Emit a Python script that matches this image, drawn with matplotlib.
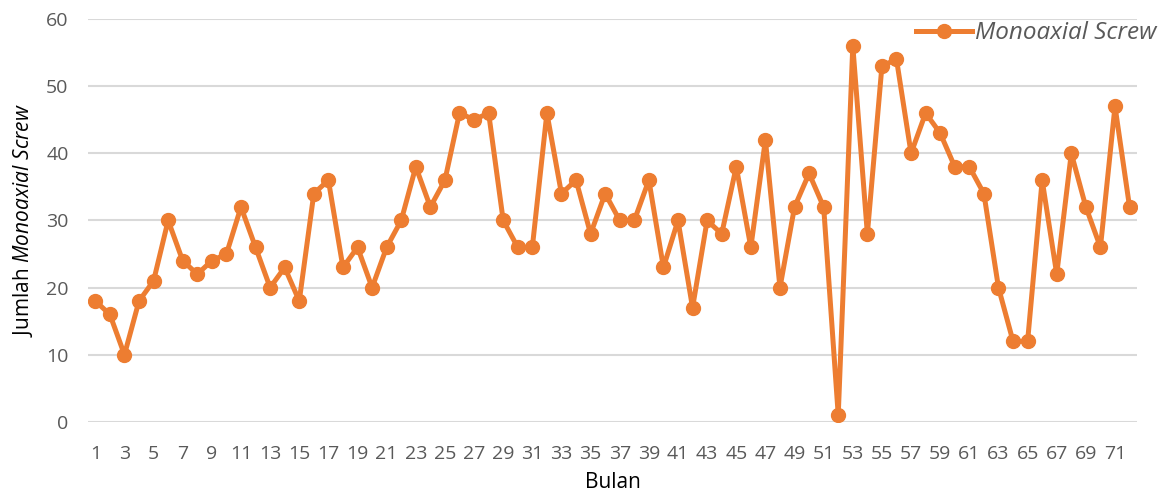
import numpy as np
import matplotlib
matplotlib.use("Agg")
import matplotlib.pyplot as plt

# monthly counts
bulan = list(range(1, 73))
jumlah = [18, 16, 10, 18, 21, 30, 24, 22, 24, 25,
          32, 26, 20, 23, 18, 34, 36, 23, 26, 20,
          26, 30, 38, 32, 36, 46, 45, 46, 30, 26,
          26, 46, 34, 36, 28, 34, 30, 30, 36, 23,
          30, 17, 30, 28, 38, 26, 42, 20, 32, 37,
          32, 1, 56, 28, 53, 54, 40, 46, 43, 38,
          38, 34, 20, 12, 12, 36, 22, 40, 32, 26,
          47, 32]
xtick_labels = [str(i) for i in range(1, 72, 2)]
yticks = [0, 10, 20, 30, 40, 50, 60]

orange = "#ED7D31"
grey_txt = "#595959"

plt.rcParams["font.family"] = ["Open Sans", "DejaVu Sans"]
plt.rcParams["mathtext.fontset"] = "custom"
plt.rcParams["mathtext.rm"] = "Open Sans"
plt.rcParams["mathtext.it"] = "Open Sans:italic"

fig = plt.figure(figsize=(11.66, 5.01), dpi=100)
ax = fig.add_axes([0.0755, 0.158, 0.8995, 0.804])

ax.plot(bulan, jumlah, color=orange, lw=3.6, marker="o", ms=10,
        label="Monoaxial Screw", solid_joinstyle="round")

ax.set_xlim(0.5, 72.5)
ax.set_ylim(0, 60)
ax.set_yticks(yticks)
ax.set_xticks(range(1, 72, 2))
ax.set_xticklabels(xtick_labels)
ax.grid(axis="y", color="#D9D9D9", lw=1.5)
ax.set_axisbelow(True)
for s in ax.spines.values():
    s.set_visible(False)
ax.tick_params(axis="both", length=0, colors=grey_txt, labelsize=14)
ax.tick_params(axis="y", pad=14)
ax.tick_params(axis="x", pad=17)

ax.set_xlabel("Bulan", color="#000000", fontsize=15, labelpad=6)
ax.set_ylabel(r"Jumlah $\it{Monoaxial\ Screw}$", color="#000000", fontsize=15, labelpad=8)

leg = fig.legend(loc="center right", bbox_to_anchor=(0.992, 0.934), frameon=False,
                 prop={"style": "italic", "size": 17.5}, handlelength=2.3,
                 handletextpad=0.15, borderaxespad=0, borderpad=0)
for t in leg.get_texts():
    t.set_color(grey_txt)

fig.savefig("out.png", dpi=100)
